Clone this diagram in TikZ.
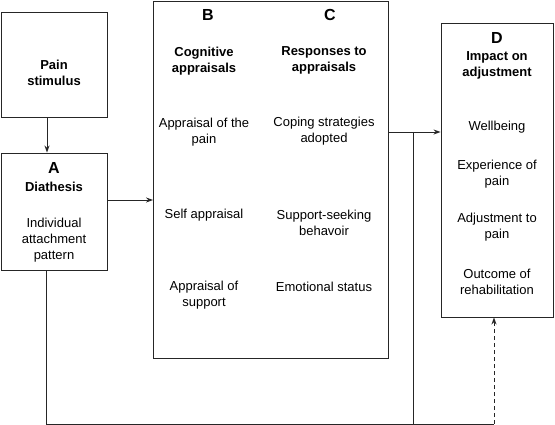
\documentclass[tikz,border=0pt]{standalone}
\usepackage{fontspec}
\setmainfont{Liberation Sans}
\usetikzlibrary{arrows.meta}
\tikzset{
 box/.style={draw=black!85, line width=0.9pt, inner sep=0pt},
 lbl/.style={align=center, font=\fontsize{13}{16}\selectfont, inner sep=0pt},
 hd/.style={align=center, font=\fontsize{13}{16}\selectfont\bfseries, inner sep=0pt},
 letter/.style={font=\fontsize{16}{18}\selectfont\bfseries, inner sep=0pt},
 conn/.style={draw=black!85, line width=0.9pt},
 arr/.style={conn, -{Stealth[length=7pt,width=5pt]}},
}
\begin{document}
\begin{tikzpicture}[x=1pt,y=-1pt]
\useasboundingbox (0,0) rectangle (555,425);
% boxes
\node[box, minimum width=106pt, minimum height=105pt] (pain) at (54,64.5) {};
\node[box, minimum width=106pt, minimum height=117pt] (A) at (54,211.5) {};
\node[box, minimum width=234.5pt, minimum height=357pt] (BC) at (270.75,179.5) {};
\node[box, minimum width=112pt, minimum height=294pt] (D) at (497,170) {};
% texts
\node[hd] (tpain) at (54,73) {Pain\\stimulus};
\node[letter] (tA) at (54,168) {A};
\node[hd] (tdia) at (54,187) {Diathesis};
\node[lbl] (tind) at (54,240) {Individual\\attachment\\pattern};
\node[letter] (tB) at (208,15) {B};
\node[letter] (tC) at (330,15) {C};
\node[hd] (tcog) at (204,61) {Cognitive\\appraisals};
\node[hd] (tresp) at (324,60) {Responses to\\appraisals};
\node[lbl] (tb1) at (204,132.5) {Appraisal of the\\pain};
\node[lbl] (tc1) at (324,131.5) {Coping strategies\\adopted};
\node[lbl] (tb2) at (204,215) {Self appraisal};
\node[lbl] (tc2) at (324,222.5) {Support-seeking\\behavoir};
\node[lbl] (tb3) at (204,295) {Appraisal of\\support};
\node[lbl] (tc3) at (324,287) {Emotional status};
\node[letter] (tD) at (497,38) {D};
\node[hd] (timp) at (497,65.5) {Impact on\\adjustment};
\node[lbl] (td1) at (497,127) {Wellbeing};
\node[lbl] (td2) at (497,174.5) {Experience of\\pain};
\node[lbl] (td3) at (497,227.5) {Adjustment to\\pain};
\node[lbl] (td4) at (497,282) {Outcome of\\rehabilitation};
% connectors
\coordinate (j) at (413,132);
\coordinate (b1) at (46,424);
\coordinate (b2) at (413,424);
\coordinate (b3) at (494,424);
\draw[arr] ([xshift=-7pt]pain.south) -- ([xshift=-7pt]A.north);
\draw[arr] ([yshift=11.5pt]A.east) -- ([yshift=11.5pt]A.east -| BC.west);
\draw[conn] (BC.east |- j) -- (j);
\draw[arr] (j) -- (j -| D.west);
\draw[conn] (j) -- (b2);
\draw[conn] (A.south -| b1) -- (b1) -- (b3);
\draw[arr, dashed, dash pattern=on 4pt off 3pt] (b3) -- (b3 |- D.south);
\end{tikzpicture}
\end{document}
